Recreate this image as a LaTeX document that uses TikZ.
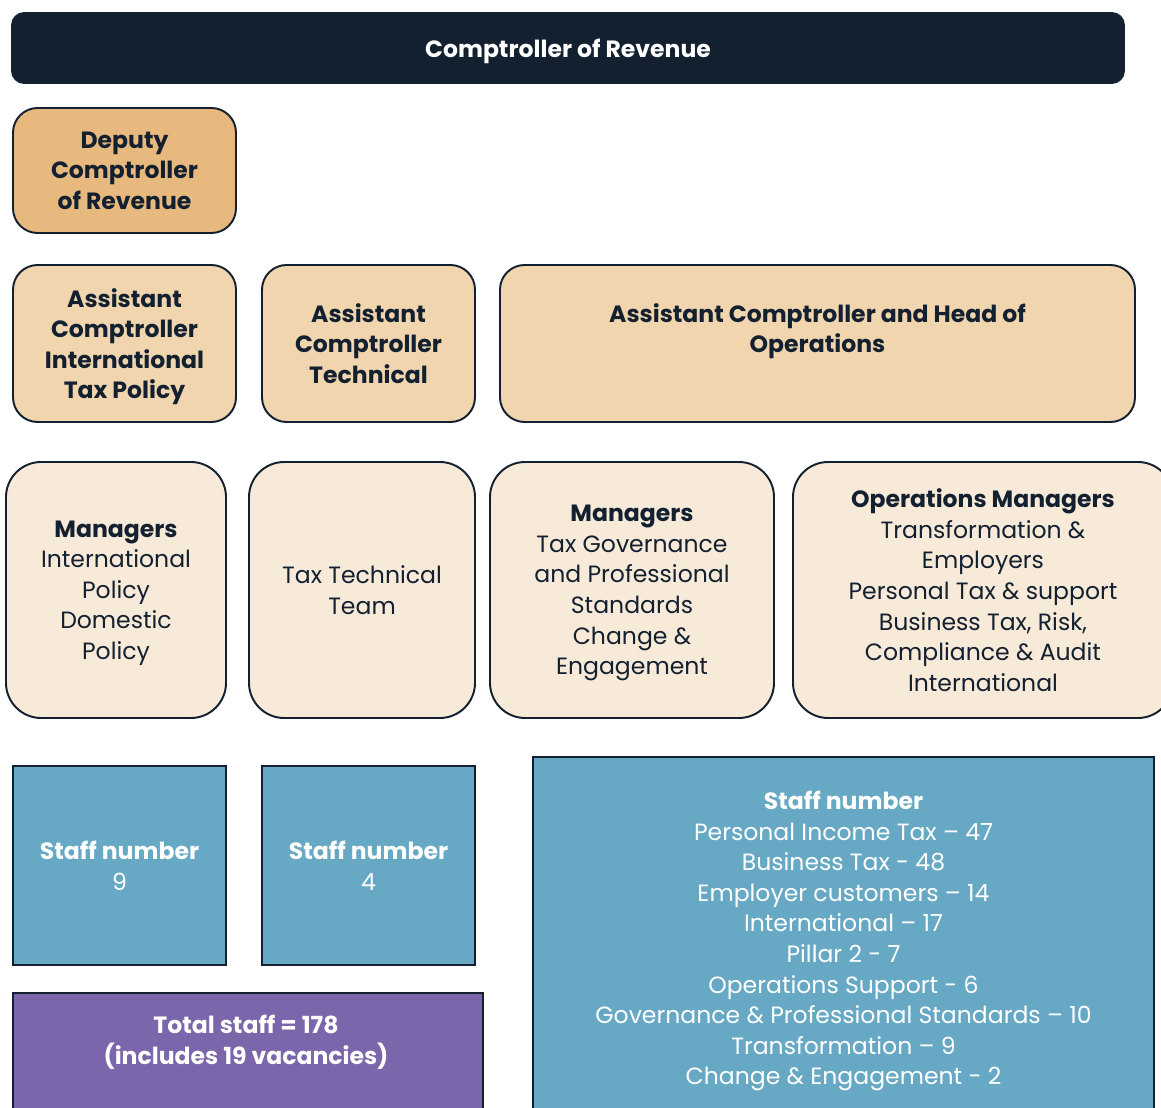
\documentclass[tikz,border=0pt]{standalone}
\usepackage{fontspec}
\setmainfont{Poppins}
\usetikzlibrary{positioning}

\definecolor{navy}{HTML}{132030}
\definecolor{deputy}{HTML}{E8B97E}
\definecolor{asst}{HTML}{F0D5AF}
\definecolor{mgr}{HTML}{F7EAD9}
\definecolor{staff}{HTML}{67A9C4}
\definecolor{total}{HTML}{7B65AB}

\begin{document}
\begin{tikzpicture}[x=0.02cm,y=-0.02cm,
    sz/.style 2 args={minimum width=#1*0.02cm,minimum height=#2*0.02cm},
    box/.style={draw=navy,line width=1.1pt,align=center,inner sep=0pt,text=navy,
        text depth=0pt,font=\fontsize{13.4}{17.4}\selectfont},
    tan/.style={box,rounded corners=14pt},
    blue/.style={box,fill=staff,text=white}]

\useasboundingbox (0,0) rectangle (1161,1108);
\clip (0,0) rectangle (1161,1108);

% top of the tree
\node[box,fill=navy,text=white,rounded corners=7pt,sz={1112}{70}] (cor) at (568,48)
    {\textbf{Comptroller of Revenue}};
\node[tan,fill=deputy,sz={223}{125}] (dcor) at (124.5,170.5)
    {\textbf{Deputy}\\\textbf{Comptroller}\\\textbf{of Revenue}};

% assistant comptrollers
\node[tan,fill=asst,sz={223}{157}] (acitp) at (124.5,343.5)
    {\textbf{Assistant}\\\textbf{Comptroller}\\\textbf{International}\\\textbf{Tax Policy}};
\node[tan,fill=asst,sz={213}{157}] (act) at (368.5,343.5)
    {\textbf{Assistant}\\\textbf{Comptroller}\\\textbf{Technical}};
\node[tan,fill=asst,sz={635}{157}] (acho) at (817.5,343.5)
    {\textbf{Assistant Comptroller and Head of}\\\textbf{Operations}\\\mbox{}};

% managers
\node[tan,fill=mgr,rounded corners=20pt,sz={220}{256}] (mip) at (116,590)
    {\textbf{Managers}\\International\\Policy\\Domestic\\Policy};
\node[tan,fill=mgr,rounded corners=20pt,sz={226}{256}] (ttt) at (362,590)
    {Tax Technical\\Team};
\node[tan,fill=mgr,rounded corners=20pt,sz={284}{256}] (mtg) at (632,590)
    {\textbf{Managers}\\Tax Governance\\and Professional\\Standards\\Change \&\\Engagement};
\node[tan,fill=mgr,rounded corners=20pt,sz={380}{256}] (opm) at (983,590)
    {\textbf{Operations Managers}\\Transformation \&\\Employers\\Personal Tax \& support\\
     Business Tax, Risk,\\Compliance \& Audit\\International};

% staff numbers
\node[blue,sz={213}{199}] (sn1) at (119.5,865.5) {\textbf{Staff number}\\9};
\node[blue,sz={213}{199}] (sn2) at (368.5,865.5) {\textbf{Staff number}\\4};
\node[blue,sz={621}{362}] (sn3) at (843.5,938)
    {\textbf{Staff number}\\Personal Income Tax -- 47\\Business Tax - 48\\
     Employer customers -- 14\\International -- 17\\Pillar 2 - 7\\
     Operations Support - 6\\Governance \& Professional Standards -- 10\\
     Transformation -- 9\\Change \& Engagement - 2};

\node[box,fill=total,anchor=north,sz={470}{200}] (tot) at (248,992) {};
\node[box,draw=none,text=white] (totlbl) at (246,1040)
    {\textbf{Total staff = 178}\\\textbf{(includes 19 vacancies)}};

\end{tikzpicture}
\end{document}
